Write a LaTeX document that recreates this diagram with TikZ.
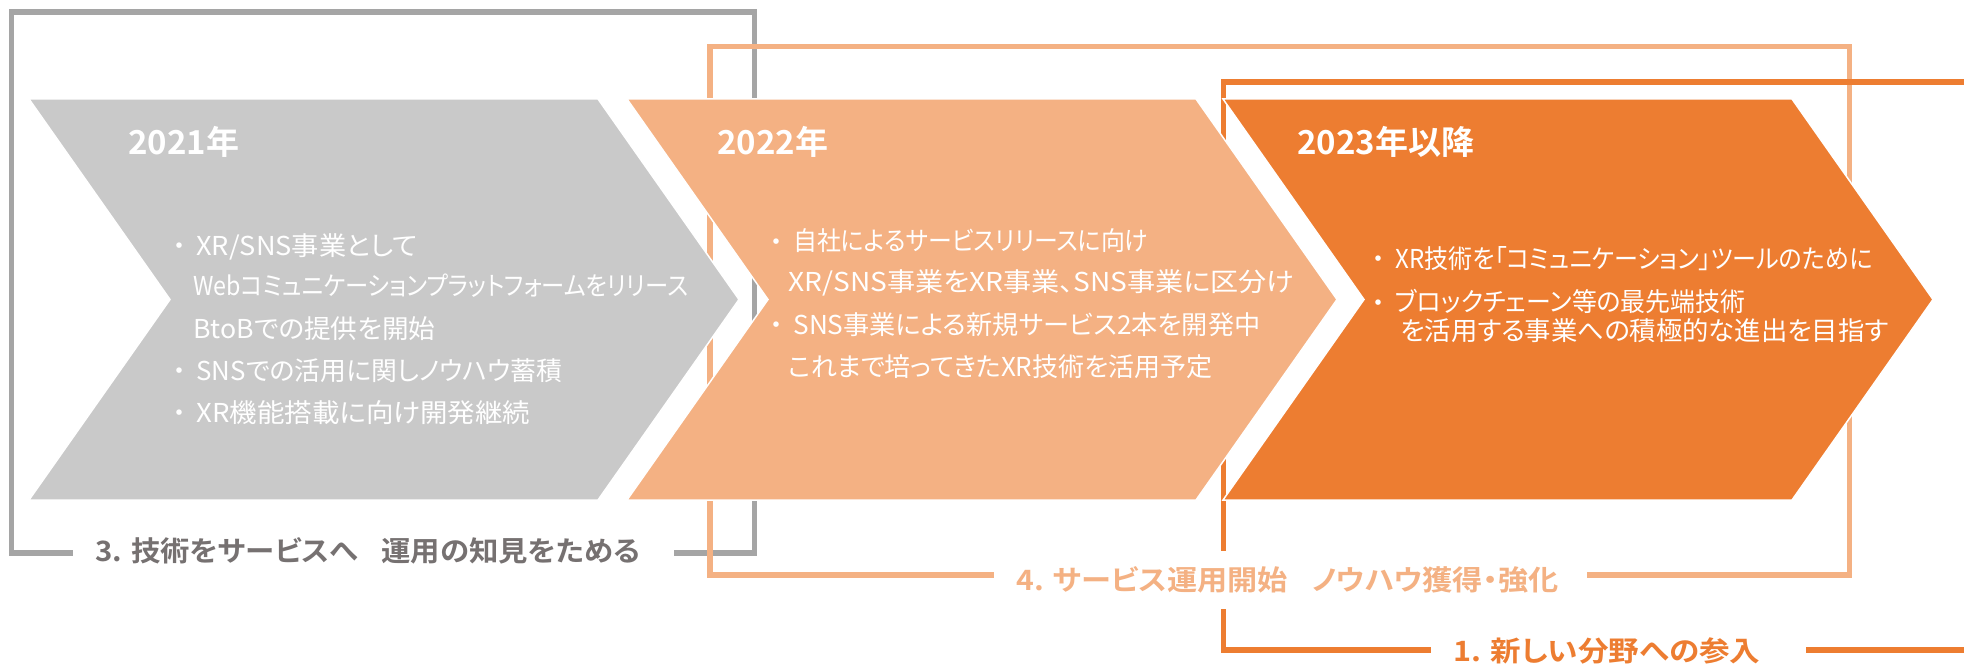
\documentclass[tikz,border=0pt]{standalone}
\usepackage{graphicx}
\usepackage{fontspec}
\setmainfont{Noto Sans CJK JP}[RawFeature=+palt, BoldFont={* Bold}]
\definecolor{chevgray}{HTML}{C9C9C9}
\definecolor{framegray}{HTML}{A5A5A5}
\definecolor{labelgray}{HTML}{767171}
\definecolor{peach}{HTML}{F4B183}
\definecolor{accent}{HTML}{ED7D31}
\newcommand{\bul}{\llap{\makebox[17pt][c]{・}}}
\newcommand{\fitto}[2]{\resizebox{#1pt}{\height}{#2}}

\begin{document}
\begin{tikzpicture}[x=0.5pt, y=-0.5pt,
    frame/.style={line width=2.75pt},
    chev/.style={draw=white, line width=0.75pt, line join=miter},
    year/.style={anchor=base west, inner sep=0pt, text=white,
      font=\fontsize{16.5}{19}\selectfont\bfseries},
    body/.style={anchor=base west, inner sep=0pt, text=white,
      font=\fontsize{13}{15}\selectfont},
    tag/.style={anchor=west, fill=white, inner xsep=11pt, inner ysep=8pt,
      font=\fontsize{14}{16}\selectfont\bfseries}]
    \useasboundingbox (0,0) rectangle (1964,668);

    % the three brackets behind the arrows
    \draw[frame, framegray] (11.5,12) rectangle (754.5,553);
    \draw[frame, peach] (710,46.5) rectangle (1849.5,575);
    \draw[frame, accent] (1970,82) -- (1223.5,82) -- (1223.5,650) -- (1970,650);

    % arrows
    \foreach \cx/\col in {29/chevgray, 627/peach, 1223/accent}{
      \filldraw[chev, fill=\col] (\cx,99) -- ++(569,0) -- ++(141,200.5)
        -- ++(-141,200.5) -- ++(-569,0) -- ++(141,-200.5) -- cycle;
    }

    \node[year] (y2021) at (128,155) {2021年};
    \node[year] (y2022) at (717,155) {2022年};
    \node[year] (y2023) at (1297,155) {2023年以降};

    % 2021
    \node[body] (gray1) at (196,256) {\bul\fitto{110.5}{XR/SNS事業として}};
    \node[body] (gray2) at (193,296) {\fitto{247.5}{Webコミュニケーションプラットフォームをリリース}};
    \node[body] (gray3) at (193,338) {\fitto{121}{BtoBでの提供を開始}};
    \node[body] (gray4) at (196,380) {\bul\fitto{183}{SNSでの活用に関しノウハウ蓄積}};
    \node[body] (gray5) at (196,422) {\bul\fitto{167}{XR機能搭載に向け開発継続}};
    % 2022
    \node[body] (peach1) at (793,251) {\bul\fitto{177.5}{自社によるサービスリリースに向け}};
    \node[body] (peach2) at (788,292) {\fitto{253}{XR/SNS事業をXR事業、SNS事業に区分け}};
    \node[body] (peach3) at (793,335) {\bul\fitto{233.5}{SNS事業による新規サービス2本を開発中}};
    \node[body] (peach4) at (788,376) {\fitto{212}{これまで培ってきたXR技術を活用予定}};
    % 2023
    \node[body] (orange1) at (1395,269) {\bul\fitto{238.5}{XR技術を「コミュニケーション」ツールのために}};
    \node[body] (orange2) at (1395,312) {\bul\fitto{175}{ブロックチェーン等の最先端技術}};
    \node[body] (orange3) at (1400,341) {\fitto{244}{を活用する事業への積極的な進出を目指す}};

    % bracket titles
    \node[tag, text=labelgray] (tgray) at (73,551)
      {\fitto{272.5}{3. 技術をサービスへ\hspace{0.8em}運用の知見をためる}\kern6pt};
    \node[tag, text=peach] (tpeach) at (994,580)
      {\fitto{271}{4. サービス運用開始\hspace{0.8em}ノウハウ獲得・強化}\kern3.5pt};
    \node[tag, text=accent] (torange) at (1431,651)
      {\fitto{153.5}{1. 新しい分野への参入}\kern12pt};
\end{tikzpicture}
\end{document}
